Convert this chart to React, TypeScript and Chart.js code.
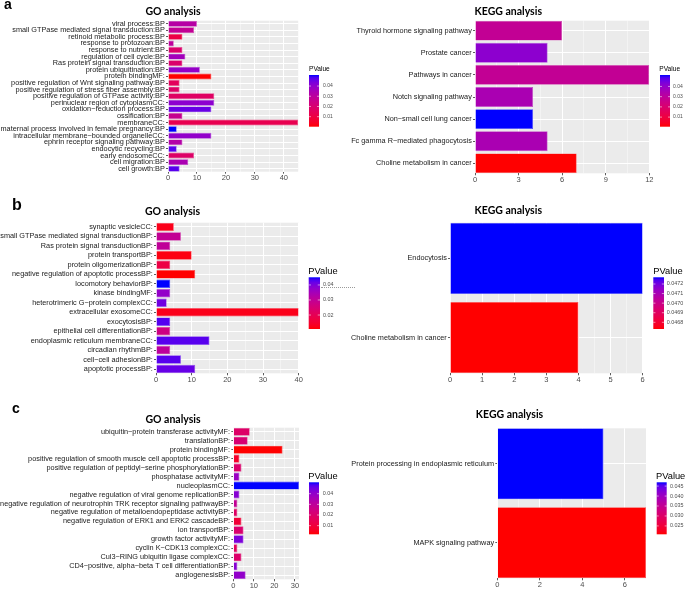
import React, { useEffect, useRef } from "react";
import { Chart, registerables } from "chart.js";

Chart.register(...registerables);

// ---------------- Panel a ----------------
const aGoTerms = [
  "viral process:BP",
  "small GTPase mediated signal transduction:BP",
  "retinoid metabolic process:BP",
  "response to protozoan:BP",
  "response to nutrient:BP",
  "regulation of cell cycle:BP",
  "Ras protein signal transduction:BP",
  "protein ubiquitination:BP",
  "protein bindingMF:",
  "positive regulation of Wnt signaling pathway:BP",
  "positive regulation of stress fiber assembly:BP",
  "positive regulation of GTPase activity:BP",
  "perinuclear region of cytoplasmCC:",
  "oxidation\u2212reduction process:BP",
  "ossification:BP",
  "membraneCC:",
  "maternal process involved in female pregnancy:BP",
  "intracellular membrane\u2212bounded organelleCC:",
  "ephrin receptor signaling pathway:BP",
  "endocytic recycling:BP",
  "early endosomeCC:",
  "cell migration:BP",
  "cell growth:BP",
];
const aGoCounts = [10, 9, 5, 2, 5, 6, 5, 11, 15, 4, 4, 16, 16, 15, 5, 45, 3, 15, 5, 3, 9, 7, 4];
const aGoPValues = [
  0.0316, 0.028, 0.0103, 0.0295, 0.0189, 0.0366, 0.0189, 0.0392, 0.0002, 0.0154, 0.0179, 0.0169,
  0.0407, 0.0457, 0.027, 0.0129, 0.0508, 0.0397, 0.0321, 0.0473, 0.0179, 0.0346, 0.0473,
];
const aGoLegendTicks = [0.01, 0.02, 0.03, 0.04];

const aKeggTerms = [
  "Thyroid hormone signaling pathway",
  "Prostate cancer",
  "Pathways in cancer",
  "Notch signaling pathway",
  "Non\u2212small cell lung cancer",
  "Fc gamma R\u2212mediated phagocytosis",
  "Choline metabolism in cancer",
];
const aKeggCounts = [6, 5, 12, 4, 4, 5, 7];
const aKeggPValues = [0.0284, 0.0411, 0.0284, 0.035, 0.0512, 0.035, 0.0006];
const aKeggLegendTicks = [0.01, 0.02, 0.03, 0.04];

// ---------------- Panel b ----------------
const bGoTerms = [
  "synaptic vesicleCC:",
  "small GTPase mediated signal transductionBP:",
  "Ras protein signal transductionBP:",
  "protein transportBP:",
  "protein oligomerizationBP:",
  "negative regulation of apoptotic processBP:",
  "locomotory behaviorBP:",
  "kinase bindingMF:",
  "heterotrimeric G\u2212protein complexCC:",
  "extracellular exosomeCC:",
  "exocytosisBP:",
  "epithelial cell differentiationBP:",
  "endoplasmic reticulum membraneCC:",
  "circadian rhythmBP:",
  "cell\u2212cell adhesionBP:",
  "apoptotic processBP:",
];
const bGoCounts = [5, 7, 4, 10, 4, 11, 4, 4, 3, 40, 4, 4, 15, 4, 7, 11];
const bGoPValues = [
  0.0124, 0.0296, 0.0303, 0.0117, 0.0176, 0.0107, 0.0451, 0.0375, 0.041, 0.0124, 0.043, 0.0269,
  0.0427, 0.0307, 0.0427, 0.0417,
];
const bGoLegendTicks = [0.02, 0.03, 0.04];

const bKeggTerms = ["Endocytosis", "Choline metabolism in cancer"];
const bKeggCounts = [6, 4];
const bKeggPValues = [0.04727, 0.04673];
const bKeggLegendTicks = [0.0468, 0.0469, 0.047, 0.0471, 0.0472];

// ---------------- Panel c ----------------
const cGoTerms = [
  "ubiquitin\u2212protein transferase activityMF:",
  "translationBP:",
  "protein bindingMF:",
  "positive regulation of smooth muscle cell apoptotic processBP:",
  "positive regulation of peptidyl\u2212serine phosphorylationBP:",
  "phosphatase activityMF:",
  "nucleoplasmCC:",
  "negative regulation of viral genome replicationBP:",
  "negative regulation of neurotrophin TRK receptor signaling pathwayBP:",
  "negative regulation of metalloendopeptidase activityBP:",
  "negative regulation of ERK1 and ERK2 cascadeBP:",
  "ion transportBP:",
  "growth factor activityMF:",
  "cyclin K\u2212CDK13 complexCC:",
  "Cul3\u2212RING ubiquitin ligase complexCC:",
  "CD4\u2212positive, alpha\u2212beta T cell differentiationBP:",
  "angiogenesisBP:",
];
const cGoCounts = [8, 7, 24, 3, 4, 3, 32, 3, 2, 2, 4, 5, 5, 2, 4, 2, 6];
const cGoPValues = [
  0.019, 0.0214, 0.0019, 0.0068, 0.02, 0.0385, 0.0507, 0.0419, 0.0287, 0.018, 0.0092, 0.0204,
  0.0434, 0.0165, 0.0195, 0.0419, 0.04,
];
const cGoLegendTicks = [0.01, 0.02, 0.03, 0.04];

const cKeggTerms = ["Protein processing in endoplasmic reticulum", "MAPK signaling pathway"];
const cKeggCounts = [5, 7];
const cKeggPValues = [0.0469, 0.0208];
const cKeggLegendTicks = [0.025, 0.03, 0.035, 0.04, 0.045];

// ---------------- colour helpers (ggplot-like red -> blue gradient in Lab) ----------------
function toLin(c: number) {
  c /= 255;
  return c <= 0.04045 ? c / 12.92 : Math.pow((c + 0.055) / 1.055, 2.4);
}
function fromLin(c: number) {
  const v = c <= 0.0031308 ? 12.92 * c : 1.055 * Math.pow(Math.max(c, 0), 1 / 2.4) - 0.055;
  return Math.round(Math.max(0, Math.min(1, v)) * 255);
}
const XN = 0.95047, YN = 1, ZN = 1.08883;
const EPS = 216 / 24389, KAPPA = 24389 / 27;
function fLab(t: number) {
  return t > EPS ? Math.cbrt(t) : (KAPPA * t + 16) / 116;
}
function fLabInv(t: number) {
  const t3 = t * t * t;
  return t3 > EPS ? t3 : (116 * t - 16) / KAPPA;
}
function rgbToLab(r: number, g: number, b: number): number[] {
  const R = toLin(r), G = toLin(g), B = toLin(b);
  const X = 0.4124564 * R + 0.3575761 * G + 0.1804375 * B;
  const Y = 0.2126729 * R + 0.7151522 * G + 0.072175 * B;
  const Z = 0.0193339 * R + 0.119192 * G + 0.9503041 * B;
  const fx = fLab(X / XN), fy = fLab(Y / YN), fz = fLab(Z / ZN);
  return [116 * fy - 16, 500 * (fx - fy), 200 * (fy - fz)];
}
function labToRgb(L: number, a: number, b: number): number[] {
  const fy = (L + 16) / 116, fx = fy + a / 500, fz = fy - b / 200;
  const X = XN * fLabInv(fx), Y = YN * fLabInv(fy), Z = ZN * fLabInv(fz);
  const R = 3.2404542 * X - 1.5371385 * Y - 0.4985314 * Z;
  const G = -0.969266 * X + 1.8760108 * Y + 0.041556 * Z;
  const B = 0.0556434 * X - 0.2040259 * Y + 1.0572252 * Z;
  return [fromLin(R), fromLin(G), fromLin(B)];
}
const LAB_LOW = rgbToLab(255, 0, 0);
const LAB_HIGH = rgbToLab(0, 0, 255);
function gradRgb(t: number) {
  const c = [0, 1, 2].map((i) => LAB_LOW[i] + (LAB_HIGH[i] - LAB_LOW[i]) * t);
  return labToRgb(c[0], c[1], c[2]);
}
function gradColor(t: number) {
  const [r, g, b] = gradRgb(t);
  return `rgb(${r},${g},${b})`;
}
function gradEdge(t: number) {
  const [r, g, b] = gradRgb(t);
  const m = (v: number) => Math.round(v + (255 - v) * 0.3);
  return `rgb(${m(r)},${m(g)},${m(b)})`;
}

// ---------------- panel specs (layout only) ----------------
interface LegendSpec {
  x: number; w: number; top: number; bottom: number;
  titleX: number; titleBaseline: number; titleSize: number;
  labelX: number; labelSize: number; ticks: number[]; digits: number;
}
interface PanelSpec {
  key: string;
  region: { x: number; y: number; w: number; h: number };
  plot: { l: number; r: number; t: number; b: number };
  labels: string[]; counts: number[]; pvalues: number[];
  xMax: number; minor: number; major: number;
  title: string; titleX: number; titleBaseline: number;
  letter?: { text: string; x: number; baseline: number; size: number };
  legend: LegendSpec;
}

const SANS = "'Liberation Sans', Arial, sans-serif";
const TITLE_FONT = "bold 10.5px Lato, 'Open Sans', sans-serif";

const panels: PanelSpec[] = [
  {
    key: "aGo",
    region: { x: 0, y: 0, w: 340, h: 190 },
    plot: { l: 168, r: 298.3, t: 20.7, b: 171.7 },
    labels: aGoTerms, counts: aGoCounts, pvalues: aGoPValues,
    xMax: 45, minor: 5, major: 10,
    title: "GO analysis", titleX: 173, titleBaseline: 15,
    letter: { text: "a", x: 4, baseline: 8.5, size: 14 },
    legend: { x: 309, w: 10, top: 75, bottom: 126.7, titleX: 309, titleBaseline: 70.7, titleSize: 6.6, labelX: 323, labelSize: 5, ticks: aGoLegendTicks, digits: 2 },
  },
  {
    key: "aKegg",
    region: { x: 340, y: 0, w: 345, h: 190 },
    plot: { l: 475, r: 649.3, t: 20.7, b: 173.3 },
    labels: aKeggTerms, counts: aKeggCounts, pvalues: aKeggPValues,
    xMax: 12, minor: 1.5, major: 3,
    title: "KEGG analysis", titleX: 508.3, titleBaseline: 15,
    legend: { x: 660, w: 10, top: 75, bottom: 126.7, titleX: 659.3, titleBaseline: 71.3, titleSize: 6.6, labelX: 673, labelSize: 5, ticks: aKeggLegendTicks, digits: 2 },
  },
  {
    key: "bGo",
    region: { x: 0, y: 190, w: 340, h: 205 },
    plot: { l: 156, r: 298.7, t: 222.7, b: 373.3 },
    labels: bGoTerms, counts: bGoCounts, pvalues: bGoPValues,
    xMax: 40, minor: 5, major: 10,
    title: "GO analysis", titleX: 172.5, titleBaseline: 215,
    letter: { text: "b", x: 12, baseline: 210, size: 16 },
    legend: { x: 308.7, w: 11.3, top: 277.3, bottom: 329, titleX: 308.3, titleBaseline: 274.3, titleSize: 9.3, labelX: 323, labelSize: 5.4, ticks: bGoLegendTicks, digits: 2 },
  },
  {
    key: "bKegg",
    region: { x: 340, y: 190, w: 345, h: 205 },
    plot: { l: 450, r: 642.7, t: 222.7, b: 373.3 },
    labels: bKeggTerms, counts: bKeggCounts, pvalues: bKeggPValues,
    xMax: 6, minor: 0.5, major: 1,
    title: "KEGG analysis", titleX: 508.3, titleBaseline: 213.5,
    legend: { x: 653.3, w: 10.7, top: 277.3, bottom: 329, titleX: 653.3, titleBaseline: 274.3, titleSize: 9.3, labelX: 666.7, labelSize: 5.4, ticks: bKeggLegendTicks, digits: 4 },
  },
  {
    key: "cGo",
    region: { x: 0, y: 395, w: 340, h: 194 },
    plot: { l: 233.3, r: 299, t: 427.7, b: 579.3 },
    labels: cGoTerms, counts: cGoCounts, pvalues: cGoPValues,
    xMax: 32, minor: 5, major: 10,
    title: "GO analysis", titleX: 173, titleBaseline: 422.7,
    letter: { text: "c", x: 12, baseline: 413.3, size: 14 },
    legend: { x: 309, w: 10, top: 482.3, bottom: 534.3, titleX: 308.3, titleBaseline: 479.3, titleSize: 9.3, labelX: 322.7, labelSize: 5.4, ticks: cGoLegendTicks, digits: 2 },
  },
  {
    key: "cKegg",
    region: { x: 340, y: 395, w: 345, h: 194 },
    plot: { l: 497.3, r: 646, t: 428.3, b: 578.3 },
    labels: cKeggTerms, counts: cKeggCounts, pvalues: cKeggPValues,
    xMax: 7, minor: 1, major: 2,
    title: "KEGG analysis", titleX: 509.5, titleBaseline: 417.7,
    legend: { x: 656.7, w: 10, top: 482.3, bottom: 534.3, titleX: 656, titleBaseline: 479.3, titleSize: 9.3, labelX: 670, labelSize: 5.4, ticks: cKeggLegendTicks, digits: 3 },
  },
];

function buildConfig(spec: PanelSpec): any {
  const pmin = Math.min(...spec.pvalues);
  const pmax = Math.max(...spec.pvalues);
  const ts = spec.pvalues.map((p) => (p - pmin) / (pmax - pmin));
  const colors = ts.map(gradColor);
  const edges = ts.map(gradEdge);
  const tickVals: number[] = [];
  for (let v = 0; v <= spec.xMax + 1e-9; v += spec.minor) tickVals.push(Math.round(v * 1e6) / 1e6);
  const isMajor = (v: number) => Math.abs(v / spec.major - Math.round(v / spec.major)) < 1e-6;
  const R = spec.region;

  const bgPlugin = {
    id: "panelBg",
    beforeDraw(chart: any) {
      const a = chart.chartArea;
      const ctx = chart.ctx;
      ctx.save();
      ctx.fillStyle = "#EBEBEB";
      ctx.fillRect(a.left, a.top, a.right - a.left, a.bottom - a.top);
      ctx.restore();
    },
  };

  const decorPlugin = {
    id: "panelDecor",
    afterDraw(chart: any) {
      const ctx = chart.ctx as CanvasRenderingContext2D;
      const ox = R.x, oy = R.y;
      ctx.save();
      ctx.font = TITLE_FONT;
      ctx.fillStyle = "#000";
      ctx.textAlign = "center";
      ctx.textBaseline = "alphabetic";
      ctx.fillText(spec.title, spec.titleX - ox, spec.titleBaseline - oy);
      if (spec.letter) {
        ctx.font = `bold ${spec.letter.size}px ${SANS}`;
        ctx.textAlign = "left";
        ctx.fillText(spec.letter.text, spec.letter.x - ox, spec.letter.baseline - oy);
      }
      const lg = spec.legend;
      ctx.font = `${lg.titleSize}px ${SANS}`;
      ctx.textAlign = "left";
      ctx.fillStyle = "#000";
      ctx.fillText("PValue", lg.titleX - ox, lg.titleBaseline - oy);
      const top = lg.top - oy, bottom = lg.bottom - oy, x = lg.x - ox;
      const grad = ctx.createLinearGradient(0, bottom, 0, top);
      for (let i = 0; i <= 20; i++) grad.addColorStop(i / 20, gradColor(i / 20));
      ctx.fillStyle = grad;
      ctx.fillRect(x, top, lg.w, bottom - top);
      ctx.strokeStyle = "rgba(255,255,255,0.9)";
      ctx.lineWidth = 0.6;
      ctx.font = `${lg.labelSize}px ${SANS}`;
      ctx.textBaseline = "middle";
      for (const v of lg.ticks) {
        const y = bottom - ((v - pmin) / (pmax - pmin)) * (bottom - top);
        ctx.beginPath();
        ctx.moveTo(x, y);
        ctx.lineTo(x + lg.w * 0.2, y);
        ctx.moveTo(x + lg.w * 0.8, y);
        ctx.lineTo(x + lg.w, y);
        ctx.stroke();
        ctx.fillStyle = "#4D4D4D";
        ctx.fillText(v.toFixed(lg.digits), lg.labelX - ox, y);
      }
      ctx.restore();
    },
  };

  return {
    type: "bar",
    data: {
      labels: spec.labels,
      datasets: [
        {
          data: spec.counts,
          backgroundColor: colors,
          borderColor: edges,
          borderWidth: 0.7,
          categoryPercentage: 0.9,
          barPercentage: 1,
        },
      ],
    },
    options: {
      indexAxis: "y",
      animation: false,
      responsive: false,
      devicePixelRatio: 1,
      events: [],
      layout: {
        padding: {
          left: 0,
          bottom: 0,
          top: spec.plot.t - R.y,
          right: R.x + R.w - spec.plot.r,
        },
      },
      plugins: { legend: { display: false }, tooltip: { enabled: false }, title: { display: false } },
      scales: {
        x: {
          type: "linear",
          min: 0,
          max: spec.xMax,
          afterBuildTicks: (scale: any) => {
            scale.ticks = tickVals.map((v) => ({ value: v }));
          },
          afterFit: (scale: any) => {
            scale.height = R.y + R.h - spec.plot.b;
          },
          ticks: {
            autoSkip: false,
            maxRotation: 0,
            minRotation: 0,
            padding: 0,
            color: "#4D4D4D",
            font: { family: SANS, size: 7.5 },
            callback: (value: any) => (isMajor(Number(value)) ? String(value) : ""),
          },
          grid: {
            offset: false,
            color: (ctx: any) => (ctx.tick && isMajor(ctx.tick.value) ? "#FFFFFF" : "rgba(255,255,255,0.8)"),
            lineWidth: (ctx: any) => (ctx.tick && isMajor(ctx.tick.value) ? 1 : 0.5),
            tickColor: (ctx: any) => (ctx.tick && isMajor(ctx.tick.value) ? "#333333" : "rgba(0,0,0,0)"),
            tickLength: 2,
            tickWidth: 0.8,
          },
          border: { display: false },
        },
        y: {
          type: "category",
          afterBuildTicks: (scale: any) => {
            const n = spec.labels.length;
            scale._startValue = -0.45;
            scale._valueRange = n - 0.1;
          },
          afterFit: (scale: any) => {
            scale.width = spec.plot.l - R.x;
          },
          ticks: {
            autoSkip: false,
            padding: 1.2,
            color: "#1A1A1A",
            font: { family: SANS, size: 7.3 },
          },
          grid: {
            offset: false,
            color: "#FFFFFF",
            lineWidth: 1,
            tickColor: "#333333",
            tickLength: 2,
            tickWidth: 0.8,
          },
          border: { display: false },
        },
      },
    },
    plugins: [bgPlugin, decorPlugin],
  };
}

function PanelChart({ spec }: { spec: PanelSpec }) {
  const ref = useRef<HTMLCanvasElement | null>(null);
  useEffect(() => {
    const canvas = ref.current;
    if (!canvas) return;
    const chart = new Chart(canvas, buildConfig(spec));
    return () => chart.destroy();
  }, [spec]);
  return (
    <canvas
      ref={ref}
      width={spec.region.w}
      height={spec.region.h}
      style={{
        position: "absolute",
        left: spec.region.x,
        top: spec.region.y,
        width: spec.region.w,
        height: spec.region.h,
      }}
    />
  );
}

export default function App() {
  useEffect(() => {
    document.body.style.margin = "0";
  }, []);
  return (
    <div
      style={{
        position: "absolute",
        left: 0,
        top: 0,
        width: 685,
        height: 589,
        background: "#FFFFFF",
        overflow: "hidden",
      }}
    >
      {panels.map((p) => (
        <PanelChart key={p.key} spec={p} />
      ))}
      <div
        style={{
          position: "absolute",
          left: 321,
          top: 287,
          width: 34,
          height: 0,
          borderTop: "1px dotted #9A9A9A",
        }}
      />
    </div>
  );
}
